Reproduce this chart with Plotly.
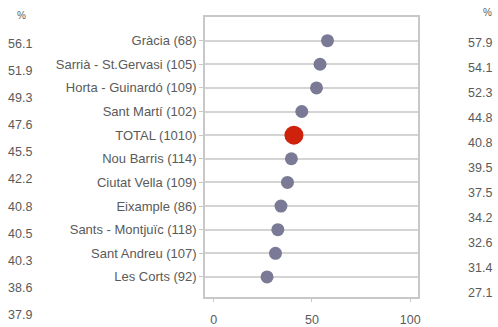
import plotly.graph_objects as go

categories = ["Gràcia (68)", "Sarrià - St.Gervasi (105)", "Horta - Guinardó (109)",
              "Sant Martí (102)", "TOTAL (1010)", "Nou Barris (114)", "Ciutat Vella (109)",
              "Eixample (86)", "Sants - Montjuïc (118)", "Sant Andreu (107)", "Les Corts (92)"]
values = [57.9, 54.1, 52.3, 44.8, 40.8, 39.5, 37.5, 34.2, 32.6, 31.4, 27.1]
left_col = [56.1, 51.9, 49.3, 47.6, 45.5, 42.2, 40.8, 40.5, 40.3, 38.6, 37.9]
right_col = [57.9, 54.1, 52.3, 44.8, 40.8, 39.5, 37.5, 34.2, 32.6, 31.4, 27.1]
x_ticks = [0, 50, 100]

W, H = 498, 327
ML, MR, MT, MB = 205, 80, 17, 30
PH = H - MT - MB
PW = W - ML - MR

idx = list(range(len(categories)))
grey = "#7b7a96"
red = "#cf220c"
colors = [red if c.startswith("TOTAL") else grey for c in categories]
sizes = [19 if c.startswith("TOTAL") else 13 for c in categories]

fig = go.Figure()
fig.add_trace(go.Scatter(
    x=values, y=idx, mode="markers",
    marker=dict(color=colors, size=sizes, opacity=1, line=dict(width=0)),
    showlegend=False, hoverinfo="x+y"))

txt = "#5a5a5a"
font = dict(family="Liberation Sans, Arial, sans-serif", size=13, color=txt)
numfont = dict(font, size=12.5)


def ypaper(px):
    return (H - MB - px) / PH


def xpaper(px):
    return (px - ML) / PW


ann = []
# left column
ann.append(dict(text="%", x=xpaper(21), y=ypaper(15), xref="paper", yref="paper",
                xanchor="center", yanchor="middle", showarrow=False, font=dict(font, size=10)))
for i, v in enumerate(left_col):
    ann.append(dict(text=f"{v:.1f}", x=xpaper(20), y=ypaper(44 + 27.1 * i), xref="paper", yref="paper",
                    xanchor="center", yanchor="middle", showarrow=False, font=numfont))
# right column
ann.append(dict(text="%", x=xpaper(494), y=ypaper(12), xref="paper", yref="paper",
                xanchor="right", yanchor="middle", showarrow=False, font=dict(font, size=10)))
for i, v in enumerate(right_col):
    ann.append(dict(text=f"{v:.1f}", x=xpaper(494), y=ypaper(43 + 25 * i), xref="paper", yref="paper",
                    xanchor="right", yanchor="middle", showarrow=False, font=numfont))

fig.update_layout(
    width=W, height=H,
    margin=dict(l=ML, r=MR, t=MT, b=MB, pad=0, autoexpand=False),
    paper_bgcolor="white", plot_bgcolor="white",
    font=font,
    annotations=ann,
    xaxis=dict(range=[-4.5, 104], tickvals=x_ticks, ticktext=[str(t) for t in x_ticks],
               showgrid=False, zeroline=False, showline=True, linecolor="#c8c8c8", linewidth=1.5,
               mirror=True, ticks="outside", ticklen=3, tickcolor="#c8c8c8", automargin=False,
               ticklabelstandoff=7, tickfont=numfont),
    yaxis=dict(range=[10.85, -1], tickvals=idx, ticktext=categories, automargin=False,
               showgrid=True, gridcolor="#d4d4d4", gridwidth=1.5, zeroline=False,
               showline=True, linecolor="#c8c8c8", linewidth=1.5, mirror=True,
               ticks="outside", ticklen=4, tickcolor="#c8c8c8", tickfont=font),
)

fig.write_html("out.html", config={"displayModeBar": False},
               post_script="document.body.style.margin='0';document.body.style.overflow='hidden';")
